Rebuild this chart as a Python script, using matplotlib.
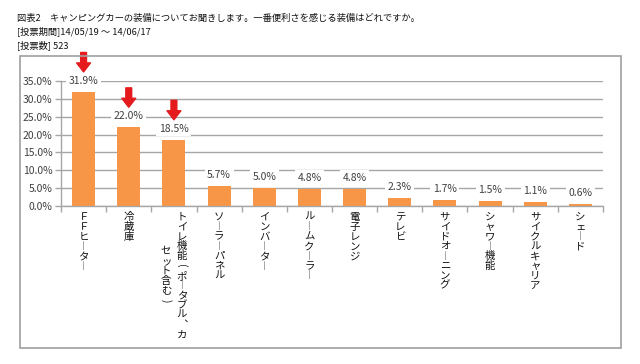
import matplotlib
matplotlib.use("Agg")
import matplotlib.pyplot as plt
from matplotlib.patches import Rectangle
from matplotlib.transforms import blended_transform_factory, ScaledTranslation

plt.rcParams['font.family'] = ['Noto Sans CJK JP', 'DejaVu Sans']

title_lines = [
    "図表2　キャンピングカーの装備についてお聞きします。一番便利さを感じる装備はどれですか。",
    "[投票期間]14/05/19 ～ 14/06/17",
    "[投票数] 523",
]
categories = ["ＦＦヒーター", "冷蔵庫", "トイレ機能（ポータブル、カセット含む）", "ソーラーパネル",
              "インバーター", "ルームクーラー", "電子レンジ", "テレビ", "サイドオーニング",
              "シャワー機能", "サイクルキャリア", "シェード"]
values = [31.9, 22.0, 18.5, 5.7, 5.0, 4.8, 4.8, 2.3, 1.7, 1.5, 1.1, 0.6]
highlighted = [0, 1, 2]
yticks = [0, 5, 10, 15, 20, 25, 30, 35]

W, H = 640, 364
fig = plt.figure(figsize=(W / 100, H / 100), dpi=100)
ax = fig.add_axes([61 / W, 1 - 206 / H, (603 - 61) / W, (206 - 81) / H])

bar_color = '#F79646'
grid_color = '#A6A6A6'
text_color = '#404040'

x = list(range(len(categories)))
ax.bar(x, values, width=0.51, color=bar_color, zorder=2)
ax.set_xlim(-0.5, len(categories) - 0.5)
ax.set_ylim(0, 35)
ax.set_yticks(yticks)
ax.set_yticklabels([f"{v:.1f}%" for v in yticks], fontsize=7.5, color=text_color)
ax.yaxis.grid(True, color=grid_color, lw=1.0, zorder=0)
ax.set_axisbelow(True)
ax.set_xticks([])
ax.set_xticks([k - 0.5 for k in range(len(categories) + 1)], minor=True)
ax.tick_params(axis='x', which='minor', length=4, color=grid_color, width=1)
ax.tick_params(axis='y', length=4, color=grid_color, width=1, pad=2)
for s in ['top', 'right']:
    ax.spines[s].set_visible(False)
for s in ['left', 'bottom']:
    ax.spines[s].set_color(grid_color)
    ax.spines[s].set_linewidth(1.0)

# data labels
for i, v in enumerate(values):
    ax.annotate(f"{v:.1f}%", (i, v), xytext=(0, 8), textcoords='offset points',
                ha='center', va='center', fontsize=7.5, color=text_color, zorder=4,
                bbox=dict(boxstyle='square,pad=0.25', fc='white', ec='none'))

# red arrows
for i in highlighted:
    ax.annotate('', xy=(i, values[i]), xytext=(0, 28.5), textcoords='offset points',
                arrowprops=dict(arrowstyle='simple,head_length=0.65,head_width=1.0,tail_width=0.42',
                                color='#E41A1C', shrinkA=0, shrinkB=14.5, mutation_scale=10),
                annotation_clip=False, zorder=5)

# vertical category labels
vert_forms = {'ー': '｜', '（': '(', '）': ')', '、': '︑'}
rotated = {'(', ')'}
trans_base = blended_transform_factory(ax.transData, ax.transAxes)
wrap = 13
step = 9.8
col_gap = 16
for i, cat in enumerate(categories):
    cols = [cat[k:k + wrap] for k in range(0, len(cat), wrap)]
    nmax = max(len(c) for c in cols)
    ncol = len(cols)
    for j, col in enumerate(cols):
        xoff = ((ncol - 1) / 2 - j) * col_gap
        start = (nmax - len(col)) / 2
        for k, ch in enumerate(col):
            yoff = -(11 + (start + k) * step)
            t = trans_base + ScaledTranslation(xoff / 100, yoff / 100, fig.dpi_scale_trans)
            disp = vert_forms.get(ch, ch)
            fs = 6.3 if disp == '｜' else 7.5
            ax.text(i, 0, disp, transform=t, ha='center', va='center',
                    fontsize=fs, color='#111111', clip_on=False,
                    rotation=-90 if disp in rotated else 0)

# titles
for n, line in enumerate(title_lines):
    fig.text(17 / W, 1 - (18 + n * 13.5) / H, line, fontsize=6.7, va='center', ha='left', color='#111111')

# chart frame
fig.patches.append(Rectangle((20 / W, 1 - 348 / H), (621 - 20) / W, (348 - 56) / H,
                             transform=fig.transFigure, fill=False, edgecolor='#A0A0A0', lw=1.2, zorder=0))

fig.savefig('out.png', dpi=100, facecolor='white')
